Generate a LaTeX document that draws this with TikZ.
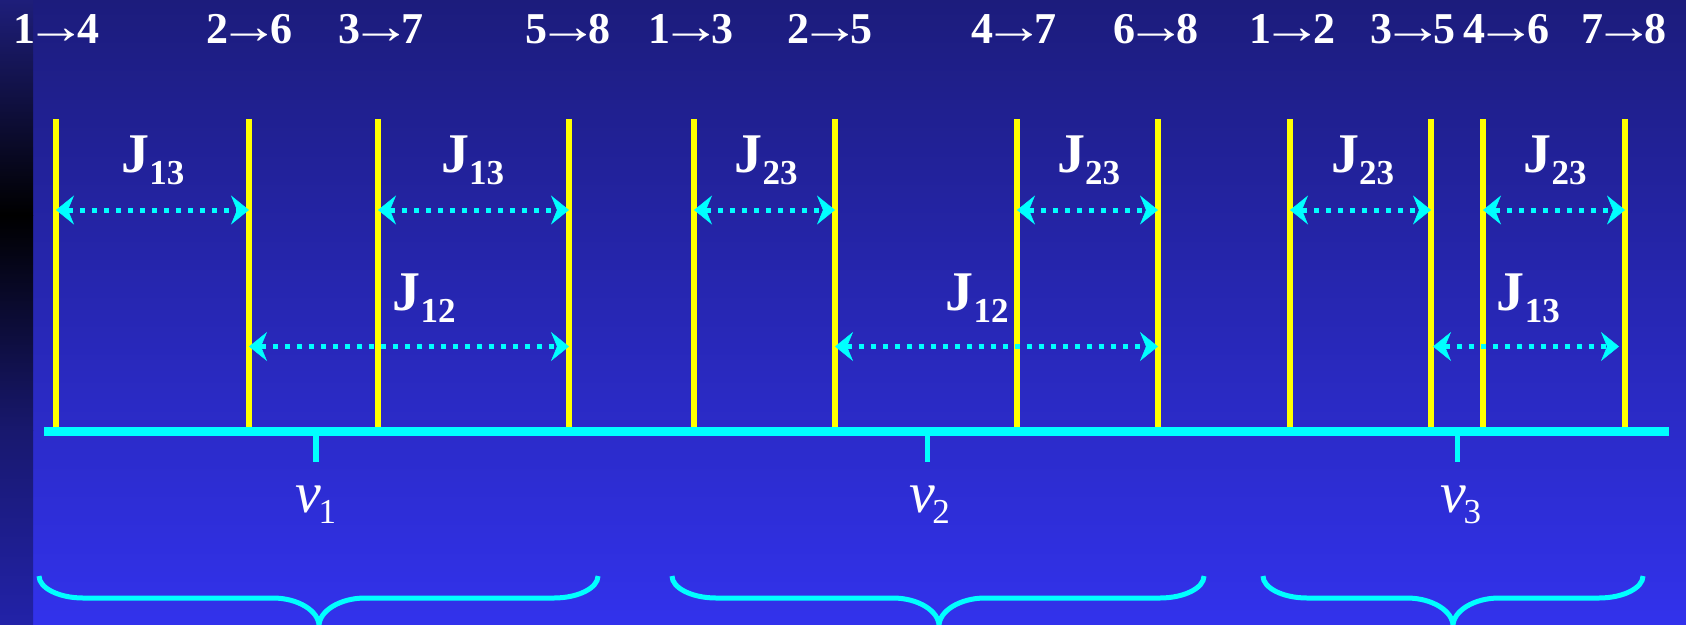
\documentclass[tikz,border=0pt]{standalone}
\usepackage{fontspec}
\usepackage{graphicx}
\setmainfont{Liberation Serif}
\usetikzlibrary{arrows.meta}
\definecolor{bgtop}{RGB}{28,28,124}
\definecolor{bgbot}{RGB}{50,50,236}
\definecolor{stripA}{RGB}{30,30,122}
\definecolor{stripB}{RGB}{24,24,110}
\definecolor{stripC}{RGB}{34,34,168}
\definecolor{cy}{RGB}{0,255,255}
\definecolor{yl}{RGB}{255,255,0}
\newcommand\mybrace[3]{%
  \draw[bracestyle] (#1,576) .. controls (#1,588) and ({#1+20},598) .. ({#1+44},598)
    -- ({#2-46},598) .. controls ({#2-21},598) and (#2,611) .. (#2,626)
    .. controls (#2,611) and ({#2+21},598) .. ({#2+46},598)
    -- ({#3-44},598) .. controls ({#3-20},598) and (#3,588) .. (#3,576);}
\newcommand\Jlab[1]{J{\fontsize{35}{35}\selectfont\raisebox{-12pt}{#1}}}
\newcommand\Nulab[1]{{\itshape ν}\kern-3pt{\fontsize{35}{35}\selectfont\mdseries\upshape\raisebox{-11pt}{#1}}}
\newcommand\Tr[2]{#1\kern-10pt\scalebox{1.4}[1.15]{→}\kern-10pt#2}
\tikzset{
  yline/.style={draw=yl, line width=5.5pt},
  baseln/.style={draw=cy, line width=8.5pt},
  tickmark/.style={draw=cy, line width=5.5pt},
  coup/.style={draw=cy, line width=5pt, dash pattern=on 5pt off 7pt,
    {Stealth[length=18pt,width=29pt,inset=6pt,line width=0.5pt]}-{Stealth[length=18pt,width=29pt,inset=6pt,line width=0.5pt]}},
  bracestyle/.style={draw=cy, line width=5pt},
  trans/.style={text=white, font=\fontsize{44}{44}\selectfont\bfseries, anchor=base, inner sep=0pt},
  jlab/.style={text=white, font=\fontsize{56}{56}\selectfont\bfseries, anchor=base, inner sep=0pt},
  nulab/.style={text=white, font=\fontsize{58}{58}\selectfont, anchor=base, inner sep=0pt}
}
\begin{document}
\begin{tikzpicture}[x=1pt,y=-1pt]
\useasboundingbox (0,0) rectangle (1686,624);
\clip (0,0) rectangle (1686,624);
% background
\shade[top color=bgtop, bottom color=bgbot] (0,0) rectangle (1686,624);
\shade[top color=stripA, bottom color=black] (0,0) rectangle (33,215);
\shade[top color=black, bottom color=stripB] (0,215) rectangle (33,430);
\shade[top color=stripB, bottom color=stripC] (0,430) rectangle (33,624);
% baseline
\coordinate (bl) at (44,431.3);
\coordinate (br) at (1669,431.3);
% yellow lines
\foreach \n/\x in {1/56,2/249,3/378,4/569,5/694,6/835,7/1017,8/1158,9/1290,10/1431,11/1483,12/1625}{
  \coordinate (t\n) at (\x,119);
  \coordinate (b\n) at (\x,431);
  \coordinate (ra\n) at (\x,210);
  \coordinate (rb\n) at (\x,346.5);
}
\foreach \n in {1,...,12}{ \draw[yline] (t\n) -- (b\n); }
\draw[baseln] (bl) -- (br);
% transition labels
\node[trans] (L1) at (56.5,43) {\Tr{1}{4}};
\node[trans] (L2) at (249.4,43) {\Tr{2}{6}};
\node[trans] (L3) at (380.8,43) {\Tr{3}{7}};
\node[trans] (L4) at (568,43) {\Tr{5}{8}};
\node[trans] (L5) at (691,43) {\Tr{1}{3}};
\node[trans] (L6) at (830,43) {\Tr{2}{5}};
\node[trans] (L7) at (1014,43) {\Tr{4}{7}};
\node[trans] (L8) at (1156,43) {\Tr{6}{8}};
\node[trans] (L9) at (1292.5,43) {\Tr{1}{2}};
\node[trans] (L10) at (1413,43) {\Tr{3}{5}};
\node[trans] (L11) at (1506.7,43) {\Tr{4}{6}};
\node[trans] (L12) at (1624,43) {\Tr{7}{8}};
% coupling arrows row 1
\draw[coup] (ra1) -- (ra2);
\draw[coup] (ra3) -- (ra4);
\draw[coup] (ra5) -- (ra6);
\draw[coup] (ra7) -- (ra8);
\draw[coup] (ra9) -- (ra10);
\draw[coup] (ra11) -- (ra12);
% coupling arrows row 2
\draw[coup] (rb2) -- (rb4);
\draw[coup] (rb6) -- (rb8);
\coordinate (rb10s) at (1433,346.5);
\coordinate (rb12s) at (1619,346.5);
\draw[coup] (rb10s) -- (rb12s);
% J labels
\node[jlab] (J1) at (152.8,172) {\Jlab{13}};
\node[jlab] (J2) at (472.6,172) {\Jlab{13}};
\node[jlab] (J3) at (766,172) {\Jlab{23}};
\node[jlab] (J4) at (1088.5,172) {\Jlab{23}};
\node[jlab] (J5) at (1362.7,172) {\Jlab{23}};
\node[jlab] (J6) at (1555,172) {\Jlab{23}};
\node[jlab] (J7) at (424,310) {\Jlab{12}};
\node[jlab] (J8) at (977,310) {\Jlab{12}};
\node[jlab] (J9) at (1528.3,310) {\Jlab{13}};
% ticks
\coordinate (k1a) at (316,435); \coordinate (k1b) at (316,462);
\coordinate (k2a) at (927.3,435); \coordinate (k2b) at (927.3,462);
\coordinate (k3a) at (1457.7,435); \coordinate (k3b) at (1457.7,462);
\draw[tickmark] (k1a) -- (k1b);
\draw[tickmark] (k2a) -- (k2b);
\draw[tickmark] (k3a) -- (k3b);
% nu labels
\node[nulab] (N1) at (316,512) {\Nulab{1}};
\node[nulab] (N2) at (929.7,512) {\Nulab{2}};
\node[nulab] (N3) at (1461,512) {\Nulab{3}};
% braces
\mybrace{39}{319}{598}
\mybrace{672}{939}{1204}
\mybrace{1263}{1453}{1643}
\end{tikzpicture}
\end{document}
